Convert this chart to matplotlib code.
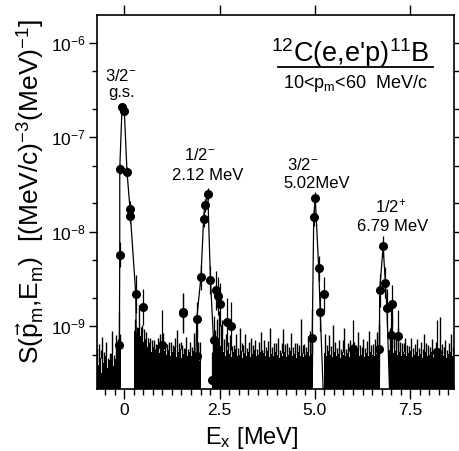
import numpy as np
import matplotlib
matplotlib.use("Agg")
import matplotlib.pyplot as plt
from matplotlib.ticker import LogLocator, FixedLocator, NullFormatter, LogFormatterMathtext

# ---------------- data ----------------
# background histogram (units of 1e-10), bins of 0.05 MeV starting at -0.75 MeV
bg_start = -0.75
bg_width = 0.05
bg_vals = [4.2, 3.9, 4.6, 3.2, 4.1, 4.8, 3.6, 4.4, 5.1, 3.8,
           4.5, 5.8, 6.2,
           np.nan, np.nan, np.nan, np.nan, np.nan, np.nan, np.nan,
           9.0, 8.4, 9.6, 7.8, 8.8, 6.9, 7.4, 6.1,
           6.6, 5.4, 6.0, 5.7, 6.3, 5.2, 5.9, 6.4, 5.5, 5.0,
           5.6, 4.9, 5.3, 6.0, 4.7, 5.4, 5.8, 4.6, 5.1, 5.7, 4.8, 5.3,
           4.9, 5.5, 4.4, 5.0, 4.3,
           np.nan, np.nan, np.nan, np.nan, np.nan, np.nan,
           3.5, 5.2, 6.8, 7.5, 6.2, 5.6,
           5.4, 4.8, 5.6, 5.1, 4.7, 5.3, 5.8, 4.9, 5.0, 5.5, 4.6, 5.2, 4.9, 5.4, 4.7, 5.1, 5.6, 4.8,
           5.0, 5.3, 4.6, 5.2, 4.9, 5.5, 4.7, 5.1, 4.8, 5.4, 5.0, 4.6, 5.2, 4.9, 5.3, 4.7, 5.0, 5.5,
           4.8, 5.1, 4.6, 5.3, 4.9, 5.2, 4.7, 5.0, 5.4, 4.9, 5.1,
           np.nan, np.nan, np.nan, np.nan, np.nan, np.nan,
           5.2, 4.8, 5.5, 5.0, 4.7, 5.3, 4.9, 5.1, 4.6, 5.4, 5.0, 4.8, 5.2, 4.7, 5.5, 4.9, 5.1, 5.6,
           4.8, 5.0, 5.3, 4.7, 5.2, 4.9, 5.4, 5.0, 4.8, 5.1, 5.3,
           np.nan, np.nan, np.nan, np.nan, np.nan,
           5.6, 5.9, 5.2, 5.5, 5.0, 5.3, 4.9, 5.4, 5.1, 4.8, 5.2, 5.5, 4.7, 5.0, 5.3, 4.9, 5.1, 4.6,
           5.2, 5.4, 4.8, 5.0, 5.3, 4.7, 5.1, 4.9, 5.5, 5.0, 4.8, 5.2, 4.6, 5.1, 5.3, 4.9, 5.0, 5.2]
bg_errs = [1.5, 2.6, 1.0, 4.5, 1.2, 2.0, 1.0, 0.8, 3.8, 1.2,
           3.5, 1.5, 2.0,
           np.nan, np.nan, np.nan, np.nan, np.nan, np.nan, np.nan,
           3.0, 1.5, 7.0, 2.0, 1.5, 2.5, 1.2, 1.5,
           1.0, 1.8, 1.2, 0.8, 1.2, 3.0, 1.0, 2.0, 1.0, 1.5,
           1.2, 2.0, 1.0, 1.5, 4.5, 1.2, 1.0, 1.8, 0.8, 2.0, 1.0, 1.5,
           1.2, 3.0, 1.0, 1.8, 2.5,
           np.nan, np.nan, np.nan, np.nan, np.nan, np.nan,
           3.0, 4.0, 5.0, 7.0, 4.0, 6.0,
           2.0, 3.5, 1.2, 3.0, 1.5, 1.0, 2.5, 1.0, 4.5, 1.2, 1.8, 3.0, 1.0, 1.5, 2.8, 1.2, 1.5, 1.0,
           1.8, 3.5, 1.0, 2.0, 1.2, 1.5, 5.0, 1.0, 1.8, 1.2, 2.5, 1.0, 1.5, 4.5, 1.2, 2.0, 1.0, 3.0,
           1.2, 1.5, 2.0, 1.0, 7.0, 1.2, 1.8, 1.0, 2.5, 4.0, 1.5,
           np.nan, np.nan, np.nan, np.nan, np.nan, np.nan,
           3.0, 1.5, 2.5, 1.2, 5.5, 1.5, 1.0, 2.0, 1.2, 1.8, 4.5, 1.0, 1.5, 2.5, 1.0, 2.0, 1.2, 3.0,
           1.5, 1.0, 2.0, 1.2, 1.8, 4.0, 1.0, 1.5, 2.5, 3.5, 5.0,
           np.nan, np.nan, np.nan, np.nan, np.nan,
           4.0, 7.0, 3.0, 2.0, 4.5, 1.5, 1.8, 1.2, 2.5, 1.5, 1.0, 2.0, 1.2, 1.5, 2.0, 1.0, 1.8, 1.2,
           3.0, 1.2, 1.5, 1.0, 2.0, 1.2, 1.8, 1.0, 7.0, 1.5, 1.2, 2.0, 1.0, 1.5, 3.0, 1.2, 1.8, 1.2]

# data points with error bars (x in MeV, S, relative error)
pts_x = [-0.13, -0.12, -0.12, -0.06, 0.00, 0.07, 0.15, 0.16, 0.30, 0.49, 0.99, 1.53,
         1.54, 1.90, 1.91, 2.01, 2.08, 2.11, 2.19, 2.26, 2.29, 2.34, 2.41, 2.47, 2.51, 2.70, 2.79,
         4.93, 4.97, 5.01, 5.10, 5.14, 5.25, 6.00,
         6.67, 6.70, 6.79, 6.85, 6.89, 7.00, 7.02, 7.17, 8.20]
pts_y = [6.4e-10, 5.7e-9, 4.6e-8, 2.07e-7, 1.9e-7, 4.3e-8, 1.74e-8, 1.47e-8, 2.2e-9, 1.6e-9, 6.4e-10, 1.4e-9,
         1.37e-9, 1.2e-9, 4.8e-10, 3.3e-9, 1.35e-8, 1.9e-8, 2.5e-8, 3.1e-9, 2.7e-10, 7.1e-10, 2.4e-9, 2.1e-9, 1.7e-9, 1.1e-9, 1.0e-9,
         7.6e-10, 1.42e-8, 2.3e-8, 4.1e-9, 1.43e-9, 2.2e-9, 5.8e-10,
         5.8e-10, 2.4e-9, 7.0e-9, 2.9e-9, 1.56e-9, 8.0e-10, 1.7e-9, 7.8e-10, 5.3e-10]
pts_rel = [1.2, 0.35, 0.12, 0.08, 0.08, 0.12, 0.2, 0.2, 0.6, 0.55, 1.3, 0.6,
           0.6, 0.5, 1.0, 0.35, 0.2, 0.18, 0.15, 0.4, 1.0, 0.8, 0.6, 0.6, 0.7, 0.8, 0.8,
           1.0, 0.25, 0.15, 0.35, 0.6, 0.5, 1.0,
           1.0, 0.5, 0.3, 0.45, 0.6, 0.9, 0.6, 0.9, 1.2]

# connecting curves through the peaks
gs_line_x = [-0.16, -0.13, -0.12, -0.12, -0.06, 0.00, 0.07, 0.15, 0.16, 0.30, 0.33]
gs_line_y = [2e-10, 6.4e-10, 5.7e-9, 4.6e-8, 2.07e-7, 1.9e-7, 4.3e-8, 1.74e-8, 1.47e-8, 2.2e-9, 2e-10]
p2_line_x = [1.86, 1.90, 2.01, 2.08, 2.11, 2.19, 2.26, 2.34, 2.37]
p2_line_y = [2e-10, 1.2e-9, 3.3e-9, 1.35e-8, 1.9e-8, 2.5e-8, 3.1e-9, 7.1e-10, 2e-10]
p5_line_x = [4.92, 4.93, 4.97, 5.01, 5.10, 5.14, 5.22]
p5_line_y = [2e-10, 7.6e-10, 1.42e-8, 2.3e-8, 4.1e-9, 1.43e-9, 2e-10]
p7_line_x = [6.69, 6.70, 6.79, 6.85, 6.89, 6.96]
p7_line_y = [2e-10, 2.4e-9, 7.0e-9, 2.9e-9, 1.56e-9, 2e-10]

x_ticks = [0, 2.5, 5.0, 7.5]
x_ticklabels = ["0", "2.5", "5.0", "7.5"]
y_ticks = [1e-9, 1e-8, 1e-7, 1e-6]

# ---------------- fonts ----------------
FONT = "Liberation Sans"
plt.rcParams["font.family"] = [FONT, "DejaVu Sans"]
plt.rcParams["mathtext.fontset"] = "custom"
plt.rcParams["mathtext.rm"] = FONT
plt.rcParams["mathtext.it"] = FONT
plt.rcParams["mathtext.bf"] = FONT
plt.rcParams["mathtext.default"] = "regular"

fig = plt.figure(figsize=(4.59, 4.51), dpi=100)
ax = fig.add_axes([96.5 / 459, 1 - 389 / 451, 357.5 / 459, 374 / 451])
ax.set_yscale("log")
ax.set_xlim(-0.73, 8.65)
ax.set_ylim(2.17e-10, 1.96e-6)

# background histogram
bg_v = np.array(bg_vals) * 1e-10
bg_e = np.array(bg_errs) * 1e-10
centers = bg_start + bg_width * (np.arange(len(bg_v)) + 0.5)
m = ~np.isnan(bg_v)
base = 1e-11
ax.bar(centers[m], bg_v[m] - base, bottom=base, width=bg_width, color="black",
       linewidth=0, align="center", zorder=2)
ax.vlines(centers[m], bg_v[m], bg_v[m] + bg_e[m], color="black", lw=1.0, zorder=2)

# curves
for lx, ly in [(gs_line_x, gs_line_y), (p2_line_x, p2_line_y),
               (p5_line_x, p5_line_y), (p7_line_x, p7_line_y)]:
    ax.plot(lx, ly, color="black", lw=0.9, zorder=3)

# points
px = np.array(pts_x)
py = np.array(pts_y)
pr = np.array(pts_rel)
yerr = [py * pr / (1 + pr), py * pr]
ax.errorbar(px, py, yerr=yerr, fmt="o", color="black", ms=5.5, elinewidth=0.9,
            capsize=0, zorder=4)

# annotations
fs = 12
ax.text(-0.1, 3.9e-7, "3/2$^{-}$", ha="center", va="baseline", fontsize=fs)
ax.text(-0.08, 2.65e-7, "g.s.", ha="center", va="baseline", fontsize=fs)
ax.text(1.97, 5.7e-8, "1/2$^{-}$", ha="center", va="baseline", fontsize=fs)
ax.text(2.20, 3.5e-8, "2.12 MeV", ha="center", va="baseline", fontsize=fs)
ax.text(4.67, 4.5e-8, "3/2$^{-}$", ha="center", va="baseline", fontsize=fs)
ax.text(5.05, 2.9e-8, "5.02MeV", ha="center", va="baseline", fontsize=fs)
ax.text(7.00, 1.6e-8, "1/2$^{+}$", ha="center", va="baseline", fontsize=fs)
ax.text(7.05, 1.02e-8, "6.79 MeV", ha="center", va="baseline", fontsize=fs)

ax.text(0.709, 0.874, "$^{12}$C(e,e'p)$^{11}$B", transform=ax.transAxes,
        ha="center", va="baseline", fontsize=19.5)
ax.plot([0.508, 0.941], [0.862, 0.862], transform=ax.transAxes, color="black", lw=1.3)
ax.text(0.725, 0.805, "10<p$_m$<60  MeV/c", transform=ax.transAxes,
        ha="center", va="baseline", fontsize=13)

# axes styling
for s in ax.spines.values():
    s.set_linewidth(1.2)
ax.xaxis.set_major_locator(FixedLocator(x_ticks))
ax.set_xticklabels(x_ticklabels)
ax.xaxis.set_minor_locator(FixedLocator(np.arange(-0.5, 8.76, 0.25)))
ax.yaxis.set_major_locator(FixedLocator(y_ticks))
ax.yaxis.set_major_formatter(LogFormatterMathtext())
ax.yaxis.set_minor_locator(LogLocator(base=10, subs=(2.0, 5.0)))
ax.yaxis.set_minor_formatter(NullFormatter())
ax.tick_params(axis="both", which="both", direction="out", width=1.0, labelsize=12.5)
ax.tick_params(axis="x", which="major", length=7, top=True, pad=3)
ax.tick_params(axis="x", which="minor", length=4, top=False)
ax.tick_params(axis="y", which="major", length=5.5, right=True, pad=2)
ax.tick_params(axis="y", which="minor", length=3.5, right=True)

ax.set_xlabel("E$_x$ [MeV]", fontsize=17)
ax.xaxis.set_label_coords(0.435, -0.095)
ax.set_ylabel("S($\\vec{p}_m$,E$_m$)  [(MeV/c)$^{-3}$(MeV)$^{-1}$]", fontsize=19)
ax.yaxis.set_label_coords(-0.14, 0.527)

fig.savefig("out.png", dpi=100)
